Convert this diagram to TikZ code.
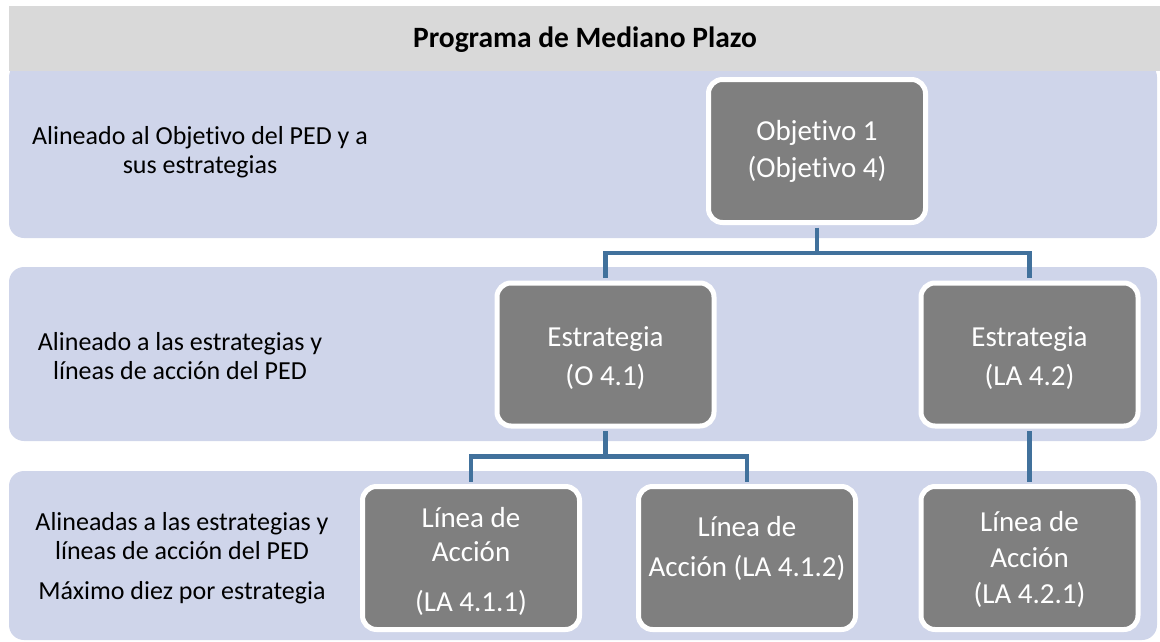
\documentclass[tikz,border=0pt]{standalone}
\usepackage{fontspec}
\setmainfont{Carlito}[Ligatures=NoCommon]
\usetikzlibrary{calc}
\definecolor{headgray}{HTML}{D9D9D9}
\definecolor{bandblue}{HTML}{CFD5EA}
\definecolor{boxgray}{HTML}{7F7F7F}
\definecolor{connblue}{HTML}{41719C}
\tikzset{
  band/.style={fill=bandblue, draw=none, rounded corners=15pt},
  levelbox/.style={draw=white, line width=5pt, fill=boxgray, rounded corners=14pt,
    minimum width=217pt, minimum height=143pt, inner sep=0pt},
  boxtext/.style={text=white, align=center, inner sep=0pt,
    font=\fontsize{29}{37}\selectfont},
  sidetext/.style={text=black, align=center, inner sep=0pt,
    font=\fontsize{26}{29}\selectfont},
  conn/.style={draw=connblue, line width=4.5pt}
}
\begin{document}
\begin{tikzpicture}[x=1pt, y=-1pt]
\useasboundingbox (0,0) rectangle (1160,641);
% bands
\fill[band] (9,62) rectangle (1157,238);
\fill[band] (9,267) rectangle (1157,441);
\fill[band] (9,471) rectangle (1157,640);
% header
\fill[headgray] (9,6) rectangle (1160,71);
\node[font=\fontsize{29.5}{34}\selectfont\bfseries, inner sep=0pt] (title) at (585,40) {Programa de Mediano Plazo};
% side labels
\node[sidetext] (s1) at (200,152.5) {Alineado al Objetivo del PED y a\\sus estrategias};
\node[sidetext] (s2) at (180,356) {Alineado a las estrategias y\\líneas de acción del PED};
\node[sidetext] (s3) at (182,558.5) {Alineadas a las estrategias y\\líneas de acción del PED\\[11pt]Máximo diez por estrategia};
% boxes
\node[levelbox] (o1) at (817,151) {};
\node[levelbox] (e1) at (605.5,354.5) {};
\node[levelbox] (e2) at (1029.5,354.5) {};
\node[levelbox] (l1) at (471,558) {};
\node[levelbox] (l2) at (747,558) {};
\node[levelbox] (l3) at (1029.5,558) {};
% box texts
\node[boxtext] (to1) at (817,151.5) {Objetivo 1\\(Objetivo 4)};
\node[boxtext, font=\fontsize{29}{39}\selectfont] (te1) at (605.5,358.5) {Estrategia\\(O 4.1)};
\node[boxtext, font=\fontsize{29}{39}\selectfont] (te2) at (1029.5,358.5) {Estrategia\\(LA 4.2)};
\node[boxtext, font=\fontsize{29}{34}\selectfont] (tl1) at (471,561) {Línea de\\Acción\\[16pt](LA 4.1.1)};
\node[boxtext, font=\fontsize{29}{40}\selectfont] (tl2) at (747,548) {Línea de\\Acción (LA 4.1.2)};
\node[boxtext, font=\fontsize{29}{36}\selectfont] (tl3) at (1029.5,559) {Línea de\\Acción\\(LA 4.2.1)};
% connectors
\coordinate (j1) at ($(o1.south)!.5!(e1.north)$);
\draw[conn] ([yshift=-2.5pt]o1.south) -- (o1.south |- j1);
\draw[conn] ([yshift=2.5pt]e1.north) |- (j1) -| ([yshift=2.5pt]e2.north);
\coordinate (j2) at ($(e1.south)!.5!(l1.north)$);
\draw[conn] ([yshift=-2.5pt]e1.south) -- (e1.south |- j2);
\draw[conn] ([yshift=2.5pt]l1.north) |- (j2) -| ([yshift=2.5pt]l2.north);
\draw[conn] ([yshift=-2.5pt]e2.south) -- ([yshift=2.5pt]l3.north);
\end{tikzpicture}
\end{document}
